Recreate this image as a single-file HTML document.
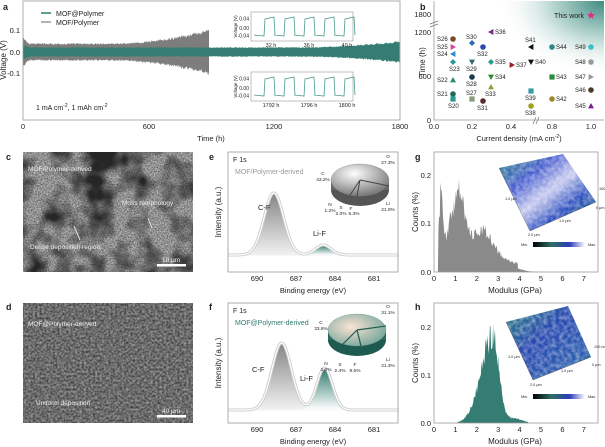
<!DOCTYPE html>
<html><head><meta charset="utf-8"><style>
html,body{margin:0;padding:0;background:#fff}
svg{display:block;font-family:"Liberation Sans",sans-serif}
</style></head><body>
<svg id="s" width="605" height="447" viewBox="0 0 605 447" xmlns="http://www.w3.org/2000/svg">
<defs>
<filter id="semc" x="0" y="0" width="100%" height="100%" color-interpolation-filters="sRGB">
<feTurbulence type="fractalNoise" baseFrequency="0.035" numOctaves="3" seed="3" result="n"/>
<feColorMatrix in="n" type="matrix" values="0 0 0 0 0.15  0 0 0 0 0.15  0 0 0 0 0.15  0 0 0 -3.0 1.8" result="dark"/>
<feTurbulence type="fractalNoise" baseFrequency="0.7" numOctaves="2" seed="7" result="f"/>
<feColorMatrix in="f" type="matrix" values="0.7 0 0 0 0.22  0.7 0 0 0 0.22  0.7 0 0 0 0.22  0 0 0 0 1" result="fg"/>
<feComposite in="dark" in2="fg" operator="over"/>
</filter>
<filter id="semd" x="0" y="0" width="100%" height="100%" color-interpolation-filters="sRGB">
<feTurbulence type="fractalNoise" baseFrequency="0.45" numOctaves="3" seed="11"/>
<feColorMatrix type="matrix" values="0.6 0 0 0 0.12  0.6 0 0 0 0.12  0.6 0 0 0 0.12  0 0 0 0 1"/>
</filter>
<filter id="rough" x="0" y="0" width="100%" height="100%" color-interpolation-filters="sRGB">
<feTurbulence type="fractalNoise" baseFrequency="0.25" numOctaves="2" seed="5" result="t"/>
<feColorMatrix in="t" type="matrix" values="0 0 0 0 1  0 0 0 0 1  0 0 0 0 1  0 0 0 0.8 -0.25" result="w"/>
<feComposite in="w" in2="SourceGraphic" operator="in" result="w2"/>
<feMerge><feMergeNode in="SourceGraphic"/><feMergeNode in="w2"/></feMerge>
</filter>
<linearGradient id="gpk" x1="0" y1="0" x2="0" y2="1"><stop offset="0" stop-color="#777"/><stop offset="1" stop-color="#fff"/></linearGradient>
<linearGradient id="tpk" x1="0" y1="0" x2="0" y2="1"><stop offset="0" stop-color="#2d7a6c"/><stop offset="1" stop-color="#fff"/></linearGradient>
<radialGradient id="bg" cx="1" cy="0" r="0.9"><stop offset="0" stop-color="#3f8c80"/><stop offset="0.35" stop-color="#bcd9d4"/><stop offset="0.7" stop-color="#fff" stop-opacity="0"/></radialGradient>
<radialGradient id="pie1" cx="0.4" cy="0.3" r="0.8"><stop offset="0" stop-color="#fff"/><stop offset="1" stop-color="#666"/></radialGradient>
<radialGradient id="pie2" cx="0.4" cy="0.4" r="0.8"><stop offset="0" stop-color="#fbe3d4"/><stop offset="1" stop-color="#5a9a8e"/></radialGradient>
<linearGradient id="cb" x1="0" x2="1"><stop offset="0" stop-color="#000"/><stop offset="0.35" stop-color="#2d6f66"/><stop offset="0.7" stop-color="#2a3db8"/><stop offset="1" stop-color="#fff"/></linearGradient>
<linearGradient id="afm1" x1="0" y1="0" x2="1" y2="1"><stop offset="0" stop-color="#2a8a80"/><stop offset="0.3" stop-color="#4a5fd0"/><stop offset="0.5" stop-color="#c8ccf0"/><stop offset="0.7" stop-color="#3050c0"/><stop offset="1" stop-color="#1f7c70"/></linearGradient>
<linearGradient id="afm2" x1="0" y1="0" x2="1" y2="1"><stop offset="0" stop-color="#2f8a7c"/><stop offset="0.4" stop-color="#2848b0"/><stop offset="0.8" stop-color="#2d5fb0"/><stop offset="1" stop-color="#2a8a70"/></linearGradient>
</defs>
<g font-size="8" fill="#222">
<g font-weight="bold" font-size="9"><text x="3" y="10">a</text><text x="420" y="10">b</text><text x="6" y="160">c</text><text x="209" y="160">e</text><text x="415" y="160">g</text><text x="6" y="310">d</text><text x="209" y="310">f</text><text x="415" y="310">h</text></g>

<g id="abands"></g>
<rect x="23" y="1" width="377" height="119" fill="none" stroke="#999" stroke-width="0.8"/>
<g font-size="7.5" text-anchor="end"><text x="20" y="33">0.1</text><text x="20" y="55">0.0</text><text x="20" y="76">-0.1</text></g>
<g font-size="7.5" text-anchor="middle"><text x="23" y="129">0</text><text x="149" y="129">600</text><text x="274" y="129">1200</text><text x="400" y="129">1800</text><text x="211" y="141">Time (h)</text></g>
<text transform="translate(6,60) rotate(-90)" font-size="8" text-anchor="middle">Voltage (V)</text>
<line x1="41" y1="13" x2="51" y2="13" stroke="#2f7a6e" stroke-width="1.5"/><text x="56" y="16" font-size="7">MOF@Polymer</text>
<line x1="41" y1="22" x2="51" y2="22" stroke="#999" stroke-width="1.5"/><text x="56" y="25" font-size="7">MOF/Polymer</text>
<text x="36" y="110" font-size="7">1 mA cm<tspan dy="-3" font-size="5">-2</tspan><tspan dy="3">, 1 mAh cm</tspan><tspan dy="-3" font-size="5">-2</tspan></text>
<g id="ins1"></g><g id="ins2"></g>

<rect x="434" y="1" width="170" height="119" fill="url(#bg)"/>
<path d="M434 1V120H604" fill="none" stroke="#999" stroke-width="0.8"/>
<path d="M430 24l8-3M430 27l8-3" stroke="#777" stroke-width="0.7"/>
<path d="M533 124l3-7M536 124l3-7" stroke="#777" stroke-width="0.7"/>
<g font-size="7.5" text-anchor="end"><text x="431" y="17">1800</text><text x="431" y="35">1200</text><text x="431" y="79">600</text><text x="431" y="123">0</text></g>
<g font-size="7.5" text-anchor="middle"><text x="434" y="129">0.0</text><text x="472" y="129">0.2</text><text x="511" y="129">0.4</text><text x="552" y="129">0.8</text><text x="591" y="129">1.0</text><text x="519" y="141">Current density (mA cm<tspan dy="-3" font-size="5">-2</tspan><tspan dy="3">)</tspan></text></g>
<text transform="translate(425,62) rotate(-90)" font-size="8" text-anchor="middle">Time (h)</text>
<text x="584" y="18" font-size="7" text-anchor="end">This work</text>
<text x="591" y="19" font-size="11" fill="#e8268a" text-anchor="middle">★</text>
<g id="bm" font-size="6"></g>

<rect x="23" y="152" width="170" height="120" fill="#888" filter="url(#semc)"/>
<g font-size="6.5" fill="#eee"><text x="28" y="171">MOF/Polymer-derived</text><text x="122" y="205">Moss morphology</text><text x="30" y="249">Dense deposition region</text><text x="162" y="262">10 μm</text></g>
<rect x="157" y="264" width="29" height="2.5" fill="#fff"/>
<path d="M80 240l-6-14M148 218l4 10" stroke="#fff" stroke-width="0.8"/>

<rect x="23" y="303" width="170" height="120" fill="#666" filter="url(#semd)"/>
<g font-size="6.5" fill="#eee"><text x="28" y="326">MOF@Polymer-derived</text><text x="36" y="405">Uniform deposition</text><text x="162" y="413">40 μm</text></g>
<rect x="157" y="415" width="29" height="2.5" fill="#fff"/>

<g id="xe"></g>
<rect x="228" y="152" width="170" height="120" fill="none" stroke="#999" stroke-width="0.8"/>
<g font-size="7.5" text-anchor="middle"><text x="257" y="281">690</text><text x="296" y="281">687</text><text x="335" y="281">684</text><text x="374" y="281">681</text><text x="313" y="293">Binding energy (eV)</text></g>
<text transform="translate(221,212) rotate(-90)" font-size="8" text-anchor="middle">Intensity (a.u.)</text>
<text x="233" y="162" font-size="7">F 1s</text><text x="235" y="174" font-size="7" fill="#999">MOF/Polymer-derived</text>
<text x="258" y="210" font-size="7.5">C-F</text><text x="313" y="236" font-size="7.5">Li-F</text>
<ellipse cx="360" cy="190" rx="29" ry="16" fill="#555"/><rect x="331" y="180" width="58" height="10" fill="#666"/>
<ellipse cx="360" cy="180" rx="29" ry="16" fill="url(#pie1)" stroke="#888" stroke-width="0.4"/>
<path d="M360 180L389 186M360 180l-10 15M360 180l-3 16" stroke="#444" stroke-width="1"/>
<g font-size="4.8" text-anchor="middle"><text x="388" y="158">O</text><text x="388" y="164">27.3%</text><text x="323" y="175">C</text><text x="323" y="181">43.2%</text><text x="388" y="205">Li</text><text x="388" y="211">21.0%</text><text x="330" y="206">N</text><text x="330" y="212">1.2%</text><text x="341" y="209">S</text><text x="341" y="215">2.0%</text><text x="351" y="210">F</text><text x="354" y="215">5.3%</text></g>

<g id="xf"></g>
<rect x="228" y="303" width="170" height="120" fill="none" stroke="#999" stroke-width="0.8"/>
<g font-size="7.5" text-anchor="middle"><text x="257" y="432">690</text><text x="296" y="432">687</text><text x="335" y="432">684</text><text x="374" y="432">681</text><text x="313" y="444">Binding energy (eV)</text></g>
<text transform="translate(221,363) rotate(-90)" font-size="8" text-anchor="middle">Intensity (a.u.)</text>
<text x="233" y="313" font-size="7">F 1s</text><text x="235" y="325" font-size="7" fill="#2f7a6e">MOF@Polymer-derived</text>
<text x="252" y="372" font-size="7.5">C-F</text><text x="300" y="381" font-size="7.5">Li-F</text>
<ellipse cx="357" cy="340" rx="29" ry="16" fill="#1f5a50"/><rect x="328" y="330" width="58" height="10" fill="#2a6a60"/>
<ellipse cx="357" cy="330" rx="29" ry="16" fill="url(#pie2)" stroke="#6a9a90" stroke-width="0.4"/>
<path d="M357 330L386 326M357 330l-14 14M357 330l4 16" stroke="#1f5a50" stroke-width="1.2"/>
<g font-size="4.8" text-anchor="middle"><text x="388" y="308">O</text><text x="388" y="314">31.1%</text><text x="321" y="324">C</text><text x="321" y="330">33.6%</text><text x="388" y="361">Li</text><text x="388" y="367">21.3%</text><text x="326" y="365">N</text><text x="326" y="371">2.0%</text><text x="340" y="366">S</text><text x="340" y="372">2.4%</text><text x="355" y="366">F</text><text x="355" y="372">9.5%</text></g>

<g id="hg"></g>
<rect x="434" y="152" width="164" height="120" fill="none" stroke="#999" stroke-width="0.8"/>
<g font-size="7.5" text-anchor="end"><text x="431" y="178">0.2</text><text x="431" y="226">0.1</text><text x="431" y="275">0.0</text></g>
<g id="gt" font-size="7.5" text-anchor="middle"></g>
<text x="515" y="293" font-size="8" text-anchor="middle">Modulus (GPa)</text>
<text transform="translate(418,212) rotate(-90)" font-size="8" text-anchor="middle">Counts (%)</text>
<polygon points="499,168 563,154 596,202 530,231" fill="url(#afm1)" filter="url(#rough)"/>
<path d="M499 168L530 231L596 202" fill="none" stroke="#555" stroke-width="0.4"/>
<g font-size="3.8"><text x="505" y="200">1.0 μm</text><text x="599" y="190">100 nm</text><text x="596" y="209">0 μm</text><text x="559" y="222">1.0 μm</text><text x="528" y="236">2.0 μm</text><text x="521" y="246">Min.</text><text x="588" y="246">Max.</text></g>
<rect x="533" y="242" width="52" height="5" fill="url(#cb)"/>

<g id="hh"></g>
<rect x="434" y="303" width="164" height="120" fill="none" stroke="#999" stroke-width="0.8"/>
<g font-size="7.5" text-anchor="end"><text x="431" y="330">0.2</text><text x="431" y="378">0.1</text><text x="431" y="426">0.0</text></g>
<g id="ht" font-size="7.5" text-anchor="middle"></g>
<text x="515" y="444" font-size="8" text-anchor="middle">Modulus (GPa)</text>
<text transform="translate(418,363) rotate(-90)" font-size="8" text-anchor="middle">Counts (%)</text>
<polygon points="506,322 568,306 591,357 533,380" fill="url(#afm2)" filter="url(#rough)"/>
<path d="M506 322L533 380L591 357" fill="none" stroke="#555" stroke-width="0.4"/>
<g font-size="3.8"><text x="508" y="358">1.0 μm</text><text x="594" y="348">100 nm</text><text x="592" y="366">0 μm</text><text x="561" y="372">1.0 μm</text><text x="530" y="386">2.0 μm</text><text x="521" y="398">Min.</text><text x="588" y="398">Max.</text></g>
<rect x="533" y="394" width="52" height="5" fill="url(#cb)"/>
</g>
<script>
(function(){
var NS="http://www.w3.org/2000/svg";
function el(p,t,a,txt){var e=document.createElementNS(NS,t);for(var k in a)e.setAttribute(k,a[k]);if(txt)e.textContent=txt;document.getElementById(p).appendChild(e);return e;}
var seed=1;function r(){seed=(seed*16807)%2147483647;return seed/2147483647;}
function band(tmax,A,col){var up=[],lo=[];for(var x=23;x<=23+tmax*0.2094;x+=0.5){var t=(x-23)/0.2094;var a=A(t);up.push(x+","+(52-a*(0.8+0.2*r())*215).toFixed(1));lo.unshift(x+","+(52+a*(0.8+0.2*r())*215).toFixed(1));}
el("abands","polygon",{points:up.concat(lo).join(" "),fill:col});}
band(890,function(t){if(t<30)return 0.075-0.0012*t;if(t<400)return 0.042;var u=(t-400)/490;return 0.042+0.068*u*u;},"#7d7d7d");
band(1800,function(t){if(t<40)return 0.035-0.0003*t;if(t<1300)return 0.023;var u=(t-1300)/500;return 0.023+0.03*u*u;},"#357d72");
function ins(id,y0,labs){var x0=251,w=102,h=29;el(id,"rect",{x:x0,y:y0,width:w,height:h,fill:"#fff",stroke:"#999","stroke-width":0.6});
var d="";var top=y0+7,bot=y0+h-6;for(var i=0;i<5;i++){var xs=x0+3+i*20;d+=(i?"L":"M")+xs+","+bot+" L"+(xs+10)+","+(bot+1)+" L"+(xs+11)+","+top+" L"+(xs+20)+","+(top-2)+" L"+(xs+21)+","+bot;}
el(id,"path",{d:d,fill:"none",stroke:"#4a9a8e","stroke-width":0.8});
[["0.04",top],["0.00",y0+h/2+2],["-0.04",bot+1]].forEach(function(a){el(id,"text",{x:x0-2,y:a[1]+1.5,"font-size":5,"text-anchor":"end"},a[0]);});
el(id,"text",{transform:"translate("+(x0-14)+","+(y0+h/2)+") rotate(-90)","font-size":4.5,"text-anchor":"middle"},"Voltage (V)");
labs.forEach(function(l,i){el(id,"text",{x:x0+20+i*38,y:y0+h+6,"font-size":5.5,"text-anchor":"middle"},l);});}
ins("ins1",12,["32 h","36 h","40 h"]);ins("ins2",72,["1792 h","1796 h","1800 h"]);
var M=[["S26",453,39,"c","#7a4a2a"],["S25",453,47,"r","#d04a9a"],["S24",453,54,"l","#2a8ad0"],["S23",453,62,"d","#2a9aa0"],["S22",453,80,"t","#2a8a7a"],["S21",453,94,"c","#1f6a5a"],["S20",453,99,"s","#2a9a8a"],
["S30",472,43,"d","#2a6ab0"],["S29",472,62,"v","#2a6a6a"],["S28",472,77,"c","#1f3a4a"],["S27",472,99,"s","#8a9a7a"],["S32",483,47,"c","#2a4ab0"],["S31",483,101,"c","#5a2a2a"],
["S36",491,32,"l","#7a2a8a"],["S35",491,62,"d","#2a9a90"],["S34",491,77,"v","#2a8a2a"],["S33",491,87,"t","#9a9a3a"],["S37",512,65,"r","#9a1f2a"],["S41",531,47,"l","#111"],["S40",531,62,"v","#111"],["S39",531,91,"s","#3a9aa0"],["S38",531,106,"c","#a0a020"],
["S44",552,47,"c","#2a8a8a"],["S43",552,77,"s","#2a8a3a"],["S42",552,99,"c","#9a8a2a"],["S49",591,47,"c","#3ac0c8"],["S48",591,62,"c","#999"],["S47",591,77,"r","#999"],["S46",591,90,"c","#4a3a2a"],["S45",591,106,"t","#7a1f8a"]];
var lp={S26:[-16,2],S25:[-16,2],S24:[-16,2],S23:[-4,9],S22:[-16,2],S21:[-16,2],S20:[-5,9],S30:[-6,-4],S29:[-6,9],S28:[-6,9],S27:[-6,-4],S32:[-6,9],S31:[-6,9],S36:[4,2],S35:[4,2],S34:[4,2],S33:[-6,9],S37:[4,2],S41:[-6,-5],S40:[4,2],S39:[-6,9],S38:[-6,9],S44:[4,2],S43:[4,2],S42:[4,2],S49:[-16,2],S48:[-16,2],S47:[-16,2],S46:[-16,2],S45:[-16,2]};
M.forEach(function(m){var x=m[1],y=m[2],c=m[4],s=3,pts;
if(m[3]=="c")el("bm","circle",{cx:x,cy:y,r:2.8,fill:c});
else if(m[3]=="s")el("bm","rect",{x:x-2.6,y:y-2.6,width:5.2,height:5.2,fill:c});
else{if(m[3]=="d")pts=[[x,y-s],[x+s,y],[x,y+s],[x-s,y]];if(m[3]=="t")pts=[[x,y-s],[x+s,y+s*0.8],[x-s,y+s*0.8]];if(m[3]=="v")pts=[[x-s,y-s*0.8],[x+s,y-s*0.8],[x,y+s]];if(m[3]=="l")pts=[[x-s,y],[x+s*0.8,y-s],[x+s*0.8,y+s]];if(m[3]=="r")pts=[[x+s,y],[x-s*0.8,y-s],[x-s*0.8,y+s]];
el("bm","polygon",{points:pts.map(function(p){return p.join(",")}).join(" "),fill:c});}
var o=lp[m[0]];el("bm","text",{x:x+o[0],y:y+o[1]},m[0]);});
function g(x,m,s){return Math.exp(-(x-m)*(x-m)/(2*s*s));}
function xps(id,base,p){var X=function(e){return 257+(690-e)*13;};var pts=[];
for(var e=692.2;e>=679.1;e-=0.05){var y=base-p[0]*g(e,p[1],p[2])-p[3]*g(e,p[4],p[5]);pts.push([X(e),y]);}
var top=pts.map(function(q){return q[0].toFixed(1)+","+q[1].toFixed(1)}).join(" L");
el(id,"path",{d:"M"+top+" L398,"+(base+8)+" L228,"+(base+8)+"Z",fill:"url(#gpk)",opacity:0.9});
var d3="M";pts.forEach(function(q,i){var e=692.2-i*0.05;var y2=base-p[3]*g(e,p[4],p[5]);d3+=(i?" L":"")+q[0].toFixed(1)+","+y2.toFixed(1);});
el(id,"path",{d:d3+" L398,"+base+" L228,"+base+"Z",fill:"url(#tpk)"});
el(id,"rect",{x:228,y:base+0.5,width:170,height:10,fill:"#fff"});
el(id,"path",{d:"M"+top,fill:"none",stroke:"#ccc","stroke-width":3});
el(id,"path",{d:"M"+top,fill:"none",stroke:"#fff","stroke-width":1.2});}
xps("xe",255,[62,688.7,0.75,10,684.9,0.6]);
xps("xf",410,[67,688.1,0.75,42,684.8,0.6]);
function hist(id,y0,f,col){var X=function(v){return 434+v*21.4;};var d="M"+X(0)+","+y0;
for(var v=0;v<7.7;v+=0.03){var val=f(v);if(val>0)val*=(0.82+0.3*r());d+=" L"+X(v).toFixed(1)+","+(y0-val*485).toFixed(1);}
d+=" L"+X(7.7)+","+y0+"Z";el(id,"path",{d:d,fill:col});}
hist("hg",272,function(v){if(v<0.2)return 0;return 0.14*g(v,0.32,0.1)+0.075*Math.max(0,1-Math.abs(v-0.75)/0.6)+0.13*g(v,1.2,0.25)+0.08*g(v,2.2,0.55)+0.01*g(v,3.5,0.5)+(v<3.9&&v>0.3?0.01:0);},"#8a8a8a");
hist("hh",423,function(v){if(v<1.1||v>4.4)return 0;if(v<2.75)return 0.185*g(v,2.75,0.55);return 0.185*g(v,2.75,0.28)+0.01*g(v,3.7,0.4);},"#357d72");
["gt","ht"].forEach(function(id,k){for(var i=0;i<=7;i++)el(id,"text",{x:434+i*21.4,y:k?432:281},""+i);});
})();
</script>
</svg>
</body></html>
